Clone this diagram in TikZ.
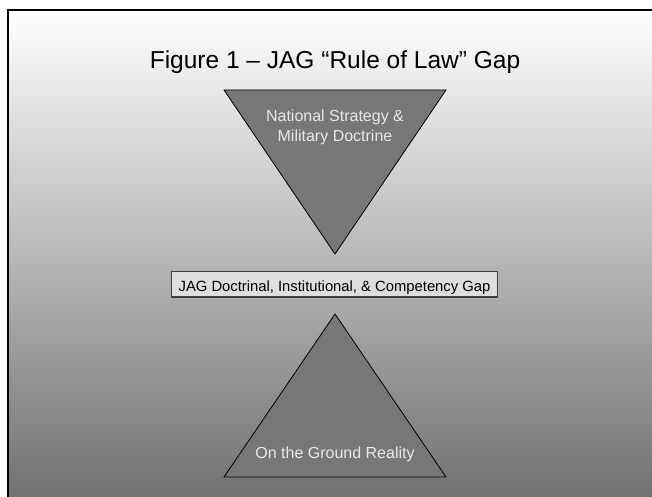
\documentclass[tikz,border=0pt]{standalone}
\usepackage{fontspec}
\setmainfont{Liberation Sans}
\definecolor{trifill}{RGB}{119,119,119}
\definecolor{tritext}{RGB}{232,232,232}
\definecolor{boxfill}{RGB}{222,222,222}
\definecolor{boxline}{RGB}{64,64,64}
\definecolor{bgbottom}{RGB}{113,113,113}
\tikzset{
  triangle/.style={fill=trifill, draw=black, line width=0.8pt, line join=miter},
  tritxt/.style={text=tritext, font=\fontsize{16}{19.4}\selectfont, align=center, inner sep=0pt},
  gapbox/.style={draw=boxline, line width=1.2pt, fill=boxfill, font=\fontsize{14.8}{17}\selectfont,
    inner xsep=7pt, inner ysep=2pt, text height=18.5pt, text depth=3.3pt},
}
\begin{document}
\begin{tikzpicture}[x=1pt,y=-1pt]
\useasboundingbox (0,0) rectangle (652,497);
\fill[white] (0,0) rectangle (652,497);
\shade[top color=white, bottom color=bgbottom] (8,10) rectangle (652,497);
\draw[line width=2pt] (8,10) rectangle (662,507);
% title
\node[anchor=base, inner sep=0pt, font=\fontsize{24.5}{28}\selectfont] (title) at (335,69) {Figure 1 – JAG “Rule of Law” Gap};
% top triangle
\coordinate (tl) at (224,90);
\coordinate (tr) at (446,90);
\coordinate (ta) at (335,254);
\path[triangle] (tl) -- (tr) -- (ta) -- cycle;
\node[tritxt] (toptext) at (335,127.5) {National Strategy \&\\Military Doctrine};
% gap box
\node[gapbox] (gap) at (334.5,284) {JAG Doctrinal, Institutional, \& Competency Gap};
% bottom triangle
\coordinate (ba) at (335,314);
\coordinate (bl) at (224,477);
\coordinate (br) at (446,477);
\path[triangle] (ba) -- (br) -- (bl) -- cycle;
\node[tritxt, anchor=base] (bottext) at (335,458.3) {On the Ground Reality};
\end{tikzpicture}
\end{document}
